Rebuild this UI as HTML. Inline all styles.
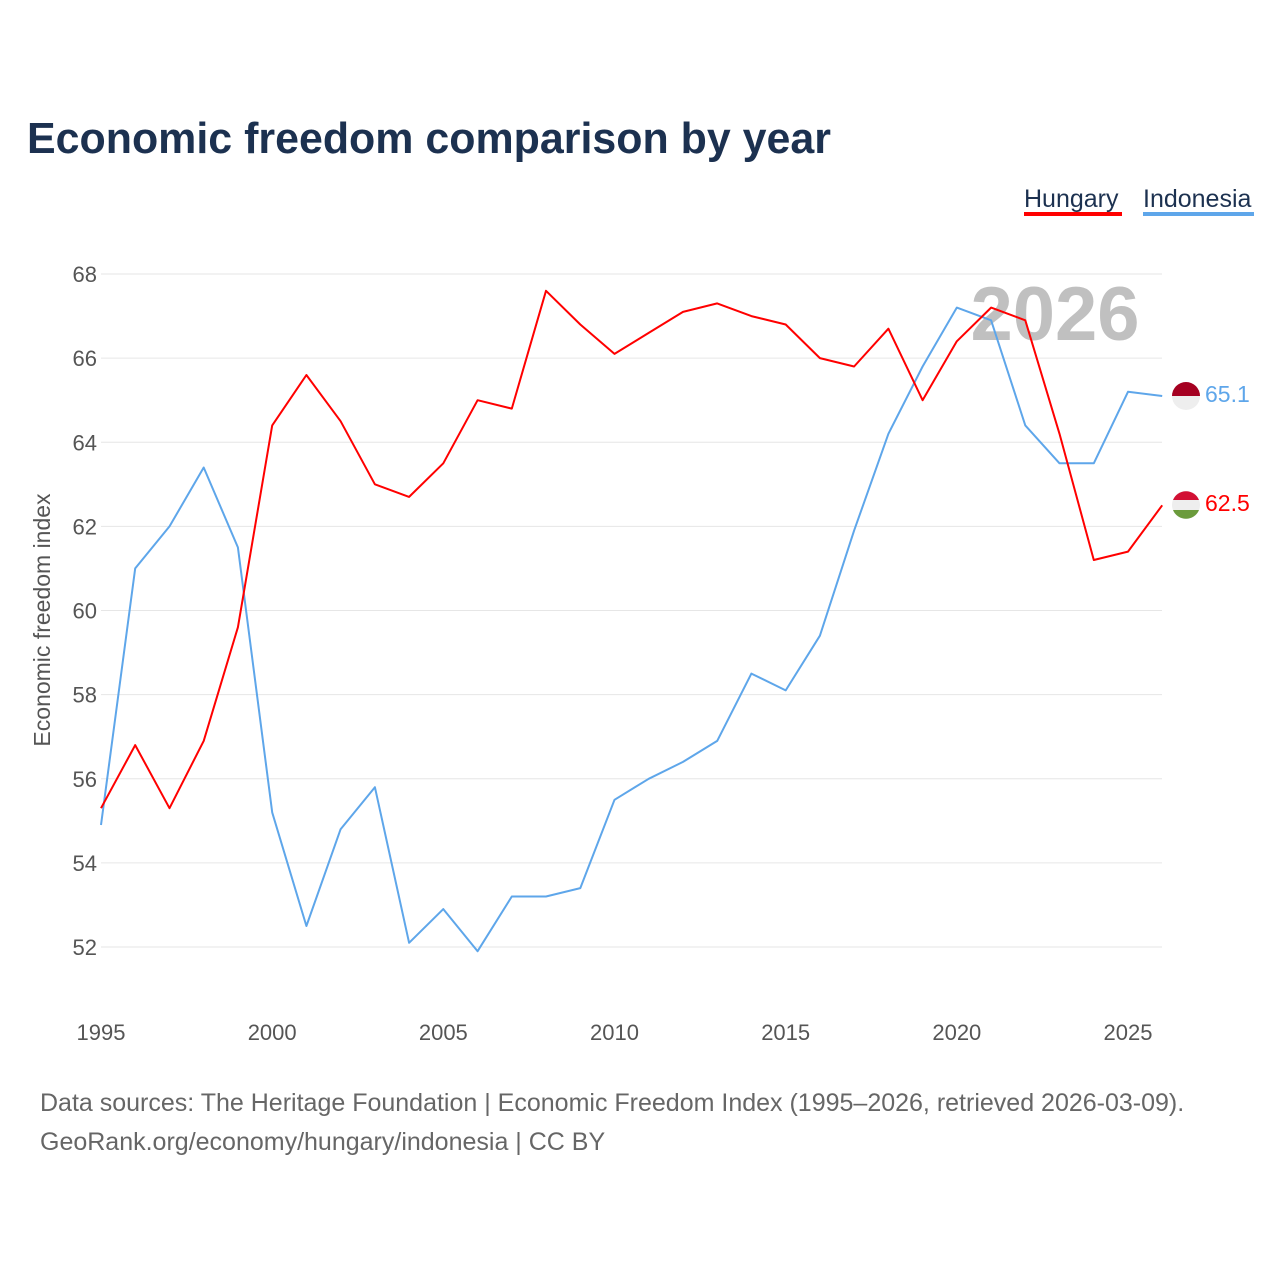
<!DOCTYPE html>
<html><head><meta charset="utf-8">
<style>
body{margin:0;background:#fff;font-family:"Liberation Sans",sans-serif;}
svg text{font-family:"Liberation Sans",sans-serif;}
</style></head>
<body>
<svg id="chart" width="1280" height="1280" viewBox="0 0 1280 1280">
<text x="27" y="153" font-size="44" font-weight="bold" fill="#1c3150" textLength="804" lengthAdjust="spacingAndGlyphs">Economic freedom comparison by year</text>
<g>
<text x="1024" y="207" font-size="25" fill="#1c3150">Hungary</text>
<rect x="1024" y="212" width="98" height="4" fill="#ff0000"/>
<text x="1143" y="207" font-size="25" fill="#1c3150">Indonesia</text>
<rect x="1143" y="212" width="111" height="4" fill="#5ea6ea"/>
</g>
<text x="1055" y="340" font-size="76" font-weight="bold" fill="#c0c0c0" text-anchor="middle">2026</text>
<g id="grid"></g>
<g id="xaxis"></g>
<text transform="translate(50,620) rotate(-90)" font-size="23" fill="#555" text-anchor="middle">Economic freedom index</text>
<g id="lines"></g>
<g>
<circle cx="1186" cy="396" r="14" fill="#eee"/>
<path d="M1172 396 A14 14 0 0 1 1200 396 Z" fill="#a50021"/>
<circle cx="1186" cy="505" r="14" fill="#eee"/>
<path d="M1173 500 A14 14 0 0 1 1199 500 Z" fill="#d21034"/>
<path d="M1173 510 A14 14 0 0 0 1199 510 Z" fill="#6b9b3c"/>
<text x="1205" y="402" font-size="23" fill="#5ea6ea">65.1</text>
<text x="1205" y="511" font-size="23" fill="#ff0000">62.5</text>
</g>
<text x="40" y="1111" font-size="25" fill="#666">Data sources: The Heritage Foundation | Economic Freedom Index (1995–2026, retrieved 2026-03-09).</text>
<text x="40" y="1150" font-size="25" fill="#666">GeoRank.org/economy/hungary/indonesia | CC BY</text>
</svg>
<script>
const years=[1995,1996,1997,1998,1999,2000,2001,2002,2003,2004,2005,2006,2007,2008,2009,2010,2011,2012,2013,2014,2015,2016,2017,2018,2019,2020,2021,2022,2023,2024,2025,2026];
const hungary=[55.3,56.8,55.3,56.9,59.6,64.4,65.6,64.5,63.0,62.7,63.5,65.0,64.8,67.6,66.8,66.1,66.6,67.1,67.3,67.0,66.8,66.0,65.8,66.7,65.0,66.4,67.2,66.9,64.2,61.2,61.4,62.5];
const indonesia=[54.9,61.0,62.0,63.4,61.5,55.2,52.5,54.8,55.8,52.1,52.9,51.9,53.2,53.2,53.4,55.5,56.0,56.4,56.9,58.5,58.1,59.4,61.9,64.2,65.8,67.2,66.9,64.4,63.5,63.5,65.2,65.1];
const yTicks=[52,54,56,58,60,62,64,66,68];
const xTicks=[1995,2000,2005,2010,2015,2020,2025];
const NS="http://www.w3.org/2000/svg";
const x=v=>101+(v-1995)*(1128-101)/30;
const y=v=>947-(v-52)*(947-274)/16;
function mk(tag,attrs,parent){const e=document.createElementNS(NS,tag);for(const k in attrs)e.setAttribute(k,attrs[k]);parent.appendChild(e);return e;}
const grid=document.getElementById('grid');
yTicks.forEach(t=>{
 const l=mk('line',{x1:101,x2:1162,y1:y(t),y2:y(t),stroke:'#e6e6e6','stroke-width':1},grid);
 
 
 const tx=mk('text',{x:97,y:y(t)+8,'font-size':22,fill:'#555','text-anchor':'end'},grid);
 tx.textContent=t;
 
 
});
const xa=document.getElementById('xaxis');
xTicks.forEach(t=>{
 const tx=mk('text',{x:x(t),y:1040,'font-size':22,fill:'#555','text-anchor':'middle'},xa);
 tx.textContent=t;
 
 
});
const lines=document.getElementById('lines');
function line(vals,color,name){
 const d=vals.map((v,i)=>(i?'L':'M')+x(years[i]).toFixed(1)+' '+y(v).toFixed(1)).join(' ');
 const p=mk('path',{d:d,fill:'none',stroke:color,'stroke-width':2,'stroke-linejoin':'round'},lines);
 
 
}
line(indonesia,'#5ea6ea','indonesia-line');
line(hungary,'#ff0000','hungary-line');
</script>
</body></html>
